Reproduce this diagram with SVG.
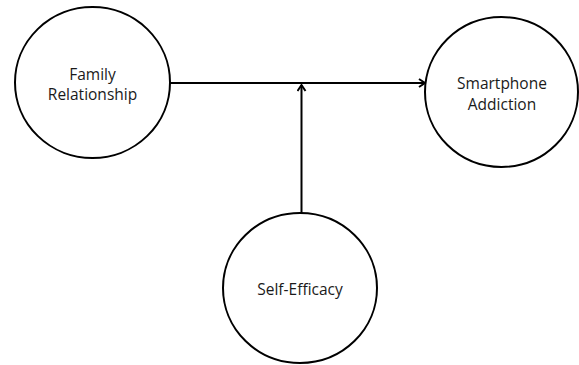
<svg xmlns="http://www.w3.org/2000/svg" width="579" height="365" viewBox="0 0 579 365">
<style>
.node{fill:#fff;stroke:#000;stroke-width:2}
.lbl{font-family:"Open Sans","Noto Sans",sans-serif;font-size:15.5px;fill:#1a1a1a;text-anchor:middle}
.edge{fill:none;stroke:#000;stroke-width:2}
</style>
<defs>
<marker id="arr" markerWidth="10" markerHeight="10" refX="8" refY="5" orient="auto" markerUnits="userSpaceOnUse">
<path d="M2,1 L8,5 L2,9" fill="none" stroke="#000" stroke-width="2"/>
</marker>
</defs>
<rect width="579" height="365" fill="#fff"/>
<g id="connectors">
<line class="edge" x1="170" y1="83" x2="425" y2="83" marker-end="url(#arr)"/>
<line class="edge" x1="301.5" y1="213" x2="301.5" y2="85" marker-end="url(#arr)"/>
</g>
<g id="family">
<ellipse class="node" cx="92.5" cy="82.5" rx="77.5" ry="75.5"/>
<text class="lbl" x="92.5" y="80">Family</text>
<text class="lbl" x="92.5" y="100">Relationship</text>
</g>
<g id="smartphone">
<ellipse class="node" cx="501.5" cy="92" rx="76.5" ry="75"/>
<text class="lbl" x="502" y="89">Smartphone</text>
<text class="lbl" x="502" y="110">Addiction</text>
</g>
<g id="selfefficacy">
<ellipse class="node" cx="300" cy="288" rx="77" ry="75"/>
<text class="lbl" x="300" y="295">Self-Efficacy</text>
</g>
</svg>
